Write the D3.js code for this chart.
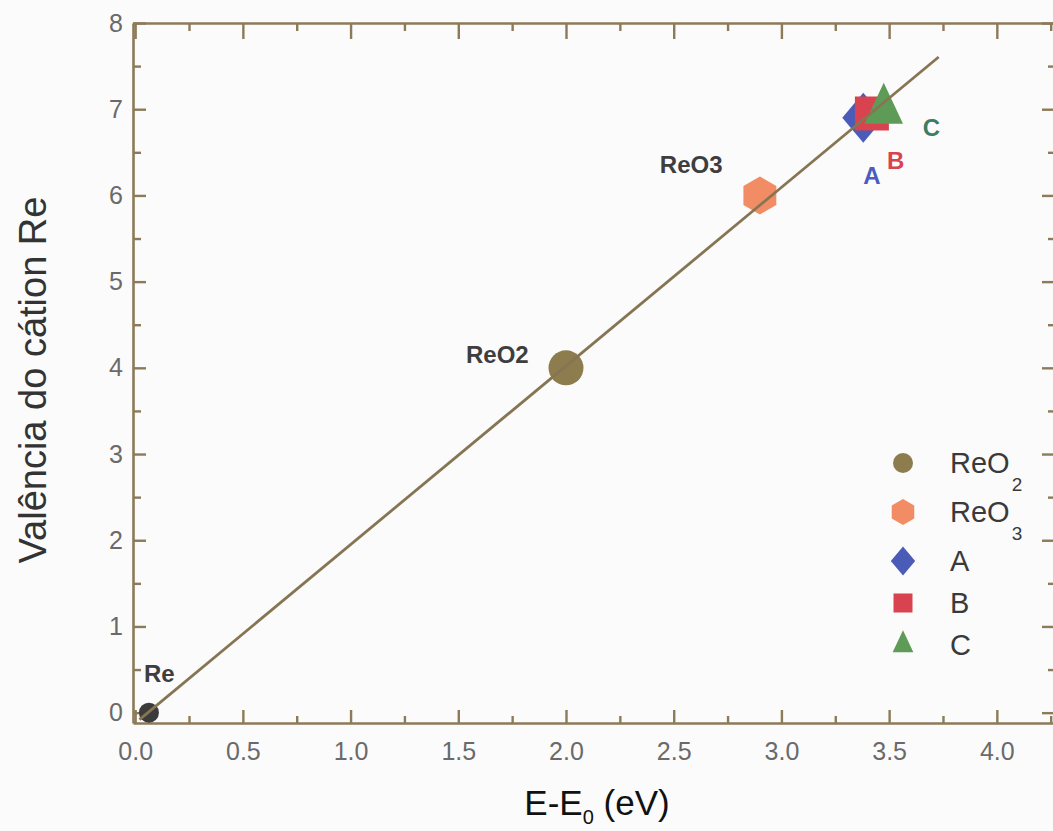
<!DOCTYPE html>
<html>
<head>
<meta charset="utf-8">
<script src="https://cdn.jsdelivr.net/npm/d3@7"></script>
<style>
  html, body { margin: 0; padding: 0; background: #fbfbfc; }
  svg { display: block; font-family: Arial, "Liberation Sans", Helvetica, sans-serif; }
</style>
</head>
<body>
<svg id="chart" width="1053" height="831"></svg>
<script>
// Re L-edge shift vs. Re cation valence
const compounds = ["Re", "ReO2", "ReO3", "A", "B", "C"];
const energyShift = [0.064, 2.00, 2.90, 3.38, 3.42, 3.475];   // E - E0 (eV)
const cationValence = [0, 4.0, 6.0, 6.90, 6.95, 6.99];
const xTickValues = [0, 0.5, 1.0, 1.5, 2.0, 2.5, 3.0, 3.5, 4.0];
const yTickValues = [0, 1, 2, 3, 4, 5, 6, 7, 8];
const legendEntries = ["ReO2", "ReO3", "A", "B", "C"];
const fitRange = [0.02, 3.73];

const svg = d3.select("#chart");

const x = d3.scaleLinear().domain([-0.01, 4.27]).range([133, 1055]);
const y = d3.scaleLinear().domain([-0.12, 8]).range([723, 23]);

const axisColor = "#8c7a58";
const tickTextColor = "#6a6a6a";

// marker appearance per compound
const markStyle = {
  Re:   { shape: "circle",   size: 10,   legendSize: 10,   fill: "#3b3b3b" },
  ReO2: { shape: "circle",   size: 17.5, legendSize: 10,   fill: "#8d7c4e" },
  ReO3: { shape: "hexagon",  size: 19,   legendSize: 13,   fill: "#f28c64" },
  A:    { shape: "diamond",  size: 25,   legendSize: 14.5, fill: "#4b5bb8" },
  B:    { shape: "square",   size: 17,   legendSize: 9.5,  fill: "#d9434f" },
  C:    { shape: "triangle", size: 41,   legendSize: 22,   fill: "#5e9b56" }
};

// point labels: offset of text start/baseline from the marker centre
const pointLabel = {
  Re:   { dx: -5,   dy: -31, color: "#3e3e3e" },
  ReO2: { dx: -100, dy: -5,  color: "#3e3e3e" },
  ReO3: { dx: -100, dy: -22, color: "#3e3e3e" },
  A:    { dx: 0,    dy: 66,  color: "#4b5bc0" },
  B:    { dx: 15,   dy: 55,  color: "#d9434f" },
  C:    { dx: 39,   dy: 26,  color: "#3d7d62" }
};

function shapePath(shape, s) {
  const p = d3.path();
  if (shape === "circle") {
    p.arc(0, 0, s, 0, 2 * Math.PI);
  } else if (shape === "hexagon") {
    for (let i = 0; i < 6; i++) {
      const a = -Math.PI / 2 + i * Math.PI / 3;
      const px = s * Math.cos(a), py = s * Math.sin(a);
      if (i === 0) p.moveTo(px, py); else p.lineTo(px, py);
    }
  } else if (shape === "diamond") {
    const hw = s * 0.84;
    p.moveTo(0, -s); p.lineTo(hw, 0); p.lineTo(0, s); p.lineTo(-hw, 0);
  } else if (shape === "square") {
    p.rect(-s, -s, 2 * s, 2 * s);
  } else if (shape === "triangle") {
    const hw = s * 0.47;
    p.moveTo(0, -2 * s / 3); p.lineTo(hw, s / 3); p.lineTo(-hw, s / 3);
  }
  p.closePath();
  return p.toString();
}

const points = compounds.map((c, i) => ({ name: c, x: energyShift[i], v: cationValence[i] }));

// ---- axes ----
function styleAxis(g) {
  g.selectAll(".domain").attr("stroke", axisColor).attr("stroke-width", 2.6);
  g.selectAll(".tick line").attr("stroke", axisColor).attr("stroke-width", 2.4);
  g.selectAll(".tick text").attr("fill", tickTextColor).attr("font-size", 25)
    .attr("font-family", "Arial, 'Liberation Sans', sans-serif");
}

const xMinor = d3.range(0.25, 4.3, 0.5);
const yMinor = d3.range(0.5, 8, 1);

// bottom
svg.append("g").attr("transform", `translate(0,${y.range()[0]})`)
  .call(d3.axisBottom(x).tickValues(xMinor).tickSizeInner(-7).tickSizeOuter(0).tickFormat(""))
  .call(g => g.select(".domain").remove()).call(styleAxis);
svg.append("g").attr("transform", `translate(0,${y.range()[0]})`)
  .call(d3.axisBottom(x).tickValues(xTickValues).tickFormat(d3.format(".1f"))
    .tickSizeInner(-13).tickSizeOuter(0).tickPadding(19))
  .call(styleAxis);

// top
svg.append("g").attr("transform", `translate(0,${y.range()[1]})`)
  .call(d3.axisTop(x).tickValues(xMinor).tickSizeInner(-8).tickSizeOuter(0).tickFormat(""))
  .call(g => g.select(".domain").remove()).call(styleAxis);
svg.append("g").attr("transform", `translate(0,${y.range()[1]})`)
  .call(d3.axisTop(x).tickValues(xTickValues).tickSizeInner(-16).tickSizeOuter(0).tickFormat(""))
  .call(styleAxis);

// left
svg.append("g").attr("transform", `translate(${x.range()[0]},0)`)
  .call(d3.axisLeft(y).tickValues(yMinor).tickSizeInner(-8).tickSizeOuter(0).tickFormat(""))
  .call(g => g.select(".domain").remove()).call(styleAxis);
svg.append("g").attr("transform", `translate(${x.range()[0]},0)`)
  .call(d3.axisLeft(y).tickValues(yTickValues).tickFormat(d3.format("d"))
    .tickSizeInner(-13).tickSizeOuter(0).tickPadding(10))
  .call(styleAxis);

// right
svg.append("g").attr("transform", `translate(${x.range()[1]},0)`)
  .call(d3.axisRight(y).tickValues(yMinor).tickSizeInner(-7).tickSizeOuter(0).tickFormat(""))
  .call(g => g.select(".domain").remove()).call(styleAxis);
svg.append("g").attr("transform", `translate(${x.range()[1]},0)`)
  .call(d3.axisRight(y).tickValues(yTickValues).tickSizeInner(-13).tickSizeOuter(0).tickFormat(""))
  .call(styleAxis);

// ---- markers ----
svg.append("g").selectAll("path").data(points).join("path")
  .attr("transform", d => `translate(${x(d.x)},${y(d.v)})`)
  .attr("d", d => shapePath(markStyle[d.name].shape, markStyle[d.name].size))
  .attr("fill", d => markStyle[d.name].fill);

// ---- least-squares line through all compounds ----
const mx = d3.mean(points, d => d.x), my = d3.mean(points, d => d.v);
const slope = d3.sum(points, d => (d.x - mx) * (d.v - my)) / d3.sum(points, d => (d.x - mx) ** 2);
const intercept = my - slope * mx;
svg.append("path")
  .datum(fitRange.map(e => [e, slope * e + intercept]))
  .attr("d", d3.line().x(d => x(d[0])).y(d => y(d[1])))
  .attr("fill", "none").attr("stroke", "#857552").attr("stroke-width", 2.8);

// ---- point labels ----
svg.append("g").selectAll("text").data(points).join("text")
  .attr("x", d => x(d.x) + pointLabel[d.name].dx)
  .attr("y", d => y(d.v) + pointLabel[d.name].dy)
  .attr("fill", d => pointLabel[d.name].color)
  .attr("font-size", 24).attr("font-weight", "bold")
  .text(d => d.name);

// ---- legend ----
const legend = svg.append("g");
let rowY = 463;
legendEntries.forEach(name => {
  const st = markStyle[name];
  const m = name.match(/^(.*?)(\d+)$/);
  legend.append("path")
    .attr("transform", `translate(903,${rowY})`)
    .attr("d", shapePath(st.shape, st.legendSize))
    .attr("fill", st.fill);
  const t = legend.append("text").attr("x", 950).attr("y", rowY + 10)
    .attr("fill", "#3a3a3a").attr("font-size", 29);
  if (m) {
    t.append("tspan").text(m[1]);
    t.append("tspan").attr("dx", 2).attr("dy", 18).attr("font-size", 19).text(m[2]);
  } else {
    t.text(name);
  }
  rowY += m ? 49 : 42;
});

// ---- axis titles ----
const xTitle = svg.append("text").attr("x", 597).attr("y", 815)
  .attr("text-anchor", "middle").attr("fill", "#111").attr("font-size", 35);
xTitle.append("tspan").text("E-E");
xTitle.append("tspan").attr("font-size", 20).attr("dy", 9).text("0");
xTitle.append("tspan").attr("dy", -9).text(" (eV)");

svg.append("text")
  .attr("transform", "translate(46,380) rotate(-90)")
  .attr("text-anchor", "middle").attr("fill", "#333").attr("font-size", 38)
  .text("Valência do cátion Re");
</script>
</body>
</html>
